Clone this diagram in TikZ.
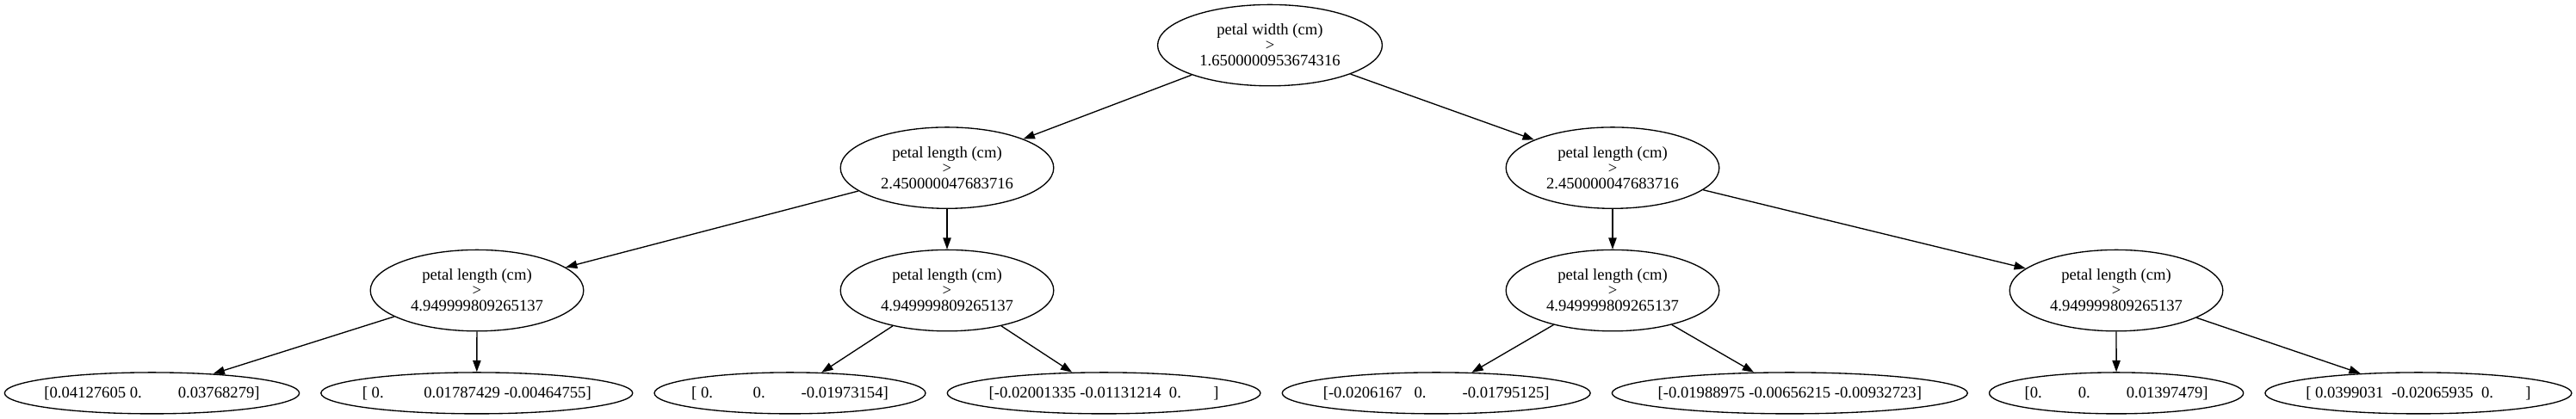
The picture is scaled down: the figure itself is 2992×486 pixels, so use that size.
\documentclass[tikz,border=0pt]{standalone}
\usepackage{fontspec}
\setmainfont{Liberation Serif}
\usetikzlibrary{arrows.meta,shapes.geometric}
\newcommand\gvfont{\fontsize{14}{13.5}\selectfont}
\newcommand\sps[1]{\kern#1\fontdimen2\font}
\begin{document}
\begin{tikzpicture}[x=0.75pt,y=-0.75pt,
  gv/.style={draw, ellipse, line width=1pt, font=\gvfont},
  innernode/.style={gv, align=center, inner xsep=7.92pt, inner ysep=0pt, minimum height=70.8pt},
  leaf/.style={gv, inner sep=0pt, minimum height=36pt, minimum width=#1},
  gvedge/.style={-{Triangle[length=10pt,width=7pt]}, line width=1pt}
]
\fill[white] (0,0) rectangle (2992,486);
\useasboundingbox (0,0) rectangle (2992,486);

\node[innernode] (root) at (1475,52.6) {petal width (cm)\\>\\1.6500000953674316};
\node[innernode] (n2a) at (1100,195.1) {petal length (cm)\\>\\2.450000047683716};
\node[innernode] (n2b) at (1873,195.1) {petal length (cm)\\>\\2.450000047683716};
\node[innernode] (n3a) at (554,337.6) {petal length (cm)\\>\\4.949999809265137};
\node[innernode] (n3b) at (1100,337.6) {petal length (cm)\\>\\4.949999809265137};
\node[innernode] (n3c) at (1873,337.6) {petal length (cm)\\>\\4.949999809265137};
\node[innernode] (n3d) at (2458,337.6) {petal length (cm)\\>\\4.949999809265137};

\node[leaf=256.7pt] (l1) at (176.5,456.9) {\makebox[0pt]{[0.04127605\sps{1}0.\sps{9}0.03768279]}};
\node[leaf=271.5pt] (l2) at (553.8,456.9) {\makebox[0pt]{[\sps{1}0.\sps{10}0.01787429\sps{1}-0.00464755]}};
\node[leaf=236.2pt] (l3) at (917.5,456.9) {\makebox[0pt]{[\sps{1}0.\sps{10}0.\sps{9}-0.01973154]}};
\node[leaf=272.8pt] (l4) at (1282.1,456.9) {\makebox[0pt]{[-0.02001335\sps{1}-0.01131214\sps{2}0.\sps{8}]}};
\node[leaf=268.4pt] (l5) at (1668.2,456.9) {\makebox[0pt]{[-0.0206167\sps{3}0.\sps{9}-0.01795125]}};
\node[leaf=309.7pt] (l6) at (2078.8,456.9) {\makebox[0pt]{[-0.01988975\sps{1}-0.00656215\sps{1}-0.00932723]}};
\node[leaf=221.4pt] (l7) at (2458.1,456.9) {\makebox[0pt]{[0.\sps{9}0.\sps{9}0.01397479]}};
\node[leaf=267.0pt] (l8) at (2808.9,456.9) {\makebox[0pt]{[\sps{1}0.0399031\sps{2}-0.02065935\sps{2}0.\sps{8}]}};

\draw[gvedge] (root) -- (n2a);
\draw[gvedge] (root) -- (n2b);
\draw[gvedge] (n2a) -- (n3a);
\draw[gvedge] (n2a) -- (n3b);
\draw[gvedge] (n2b) -- (n3c);
\draw[gvedge] (n2b) -- (n3d);
\draw[gvedge] (n3a) -- (l1);
\draw[gvedge] (n3a) -- (l2);
\draw[gvedge] (n3b) -- (l3);
\draw[gvedge] (n3b) -- (l4);
\draw[gvedge] (n3c) -- (l5);
\draw[gvedge] (n3c) -- (l6);
\draw[gvedge] (n3d) -- (l7);
\draw[gvedge] (n3d) -- (l8);
\end{tikzpicture}
\end{document}
